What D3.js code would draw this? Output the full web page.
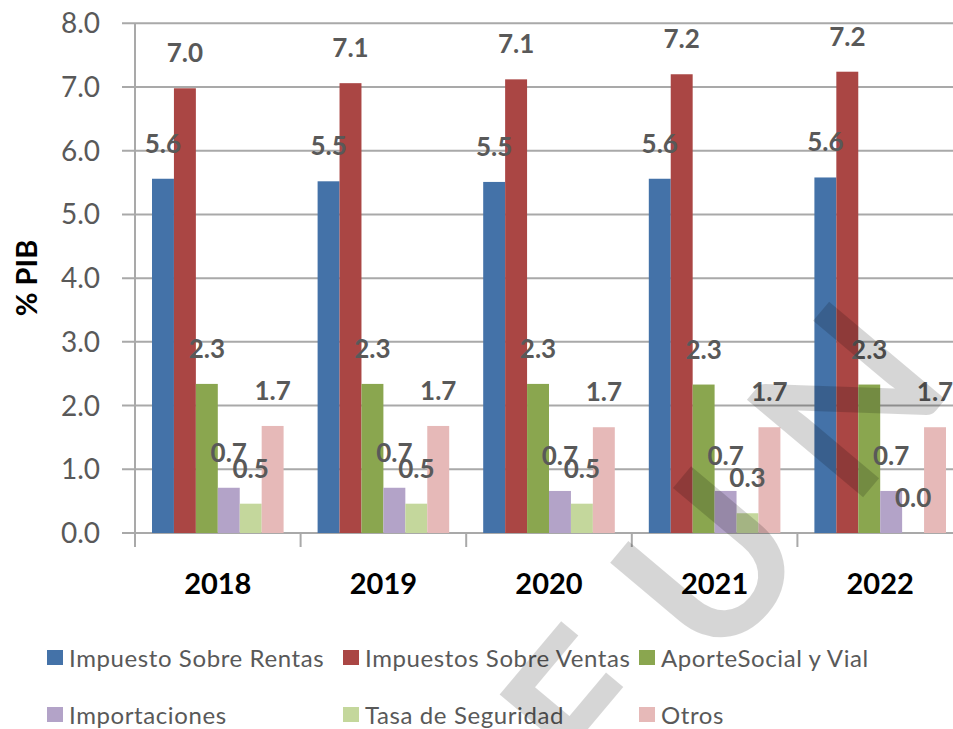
<!DOCTYPE html>
<html>
<head>
<meta charset="utf-8">
<script src="https://cdn.jsdelivr.net/npm/d3@7"></script>
<style>
  body { margin: 0; background: #fff; }
  svg { display: block; font-family: Lato, "Open Sans", sans-serif; }
</style>
</head>
<body>
<div class="display"></div>
<script>
const years = ['2018', '2019', '2020', '2021', '2022'];
const seriesNames = ['Impuesto Sobre Rentas', 'Impuestos Sobre Ventas', 'AporteSocial y Vial', 'Importaciones', 'Tasa de Seguridad', 'Otros'];
const seriesColors = ['#4472a8', '#aa4644', '#8aa64f', '#b3a3c8', '#c4d79c', '#e6b9b8'];

// % PIB por año, una lista por serie
const rentas = [5.56, 5.52, 5.51, 5.56, 5.58];
const ventas = [6.98, 7.06, 7.12, 7.2, 7.24];
const aporte = [2.34, 2.34, 2.34, 2.33, 2.33];
const importaciones = [0.71, 0.71, 0.66, 0.66, 0.66];
const tasaSeguridad = [0.46, 0.46, 0.46, 0.31, 0.0];
const otros = [1.68, 1.68, 1.66, 1.66, 1.66];
const yTicks = [0, 1, 2, 3, 4, 5, 6, 7, 8];

const seriesValues = [rentas, ventas, aporte, importaciones, tasaSeguridad, otros];

const width = 953;
const height = 729;
const left = 135;
const bandW = 165.6;
const grey = '#595959';

const svg = d3.select('.display')
  .append('svg')
  .attr('width', width)
  .attr('height', height);

const x = d3.scaleBand()
  .domain(years)
  .range([left, left + bandW * years.length]);

const xInner = d3.scaleBand()
  .domain(d3.range(seriesNames.length))
  .range([17, bandW - 17]);

const y = d3.scaleLinear()
  .domain([0, 7])
  .range([533, 87]);

// grid + y labels
svg.append('g')
  .selectAll('line')
  .data(yTicks)
  .enter()
  .append('line')
  .attr('x1', 122)
  .attr('x2', width)
  .attr('y1', d => y(d))
  .attr('y2', d => y(d))
  .attr('stroke', '#a9a9a9')
  .attr('stroke-width', 2);

svg.append('g')
  .selectAll('text')
  .data(yTicks)
  .enter()
  .append('text')
  .attr('x', 100)
  .attr('y', d => y(d) + 10)
  .attr('text-anchor', 'end')
  .attr('fill', grey)
  .style('font-size', '28px')
  .text(d => d.toFixed(1));

// y axis line and category ticks
svg.append('line')
  .attr('x1', left).attr('x2', left)
  .attr('y1', y(8)).attr('y2', 547)
  .attr('stroke', '#a9a9a9')
  .attr('stroke-width', 2);

svg.append('g')
  .selectAll('line')
  .data(years)
  .enter()
  .append('line')
  .attr('x1', d => x(d) + bandW)
  .attr('x2', d => x(d) + bandW)
  .attr('y1', y(0))
  .attr('y2', 547)
  .attr('stroke', '#a9a9a9')
  .attr('stroke-width', 2);

// bars
const cells = [];
years.forEach((yr, i) => {
  seriesValues.forEach((vals, s) => cells.push({year: yr, s, value: vals[i]}));
});

svg.append('g')
  .selectAll('rect')
  .data(cells)
  .enter()
  .append('rect')
  .attr('x', d => x(d.year) + xInner(d.s))
  .attr('y', d => y(d.value))
  .attr('width', xInner.bandwidth())
  .attr('height', d => y(0) - y(d.value))
  .attr('fill', d => seriesColors[d.s]);

// value labels
svg.append('g')
  .selectAll('text')
  .data(cells)
  .enter()
  .append('text')
  .attr('x', d => x(d.year) + xInner(d.s) + xInner.bandwidth() / 2)
  .attr('y', d => y(d.value) - 26)
  .attr('text-anchor', 'middle')
  .attr('fill', grey)
  .style('font-size', '26px')
  .style('font-weight', 'bold')
  .text(d => d.value.toFixed(1));

// year labels
svg.append('g')
  .selectAll('text')
  .data(years)
  .enter()
  .append('text')
  .attr('x', d => x(d) + bandW / 2)
  .attr('y', 594)
  .attr('text-anchor', 'middle')
  .attr('fill', '#000')
  .style('font-size', '29px')
  .style('font-weight', 'bold')
  .text(d => d);

// axis title
svg.append('text')
  .attr('transform', 'translate(37, 278) rotate(-90)')
  .attr('text-anchor', 'middle')
  .attr('fill', '#000')
  .style('font-size', '29px')
  .style('font-weight', 'bold')
  .text('% PIB');

// legend
const legend = svg.append('g');
seriesNames.forEach((name, i) => {
  const lx = 47 + (i % 3) * 296;
  const ly = 667 + Math.floor(i / 3) * 57;
  legend.append('rect')
    .attr('x', lx)
    .attr('y', ly - 17)
    .attr('width', 16)
    .attr('height', 15)
    .attr('fill', seriesColors[i]);
  legend.append('text')
    .attr('x', lx + 22)
    .attr('y', ly)
    .attr('fill', grey)
    .style('font-size', '24px')
    .style('letter-spacing', '0.6px')
    .text(name);
});

// watermark
svg.append('text')
  .attr('transform', 'translate(605, 805) rotate(-50)')
  .attr('fill', '#000')
  .attr('fill-opacity', 0.16)
  .style('font-size', '210px')
  .style('font-weight', 'bold')
  .style('letter-spacing', '55px')
  .text('FUN');
</script>
</body>
</html>
